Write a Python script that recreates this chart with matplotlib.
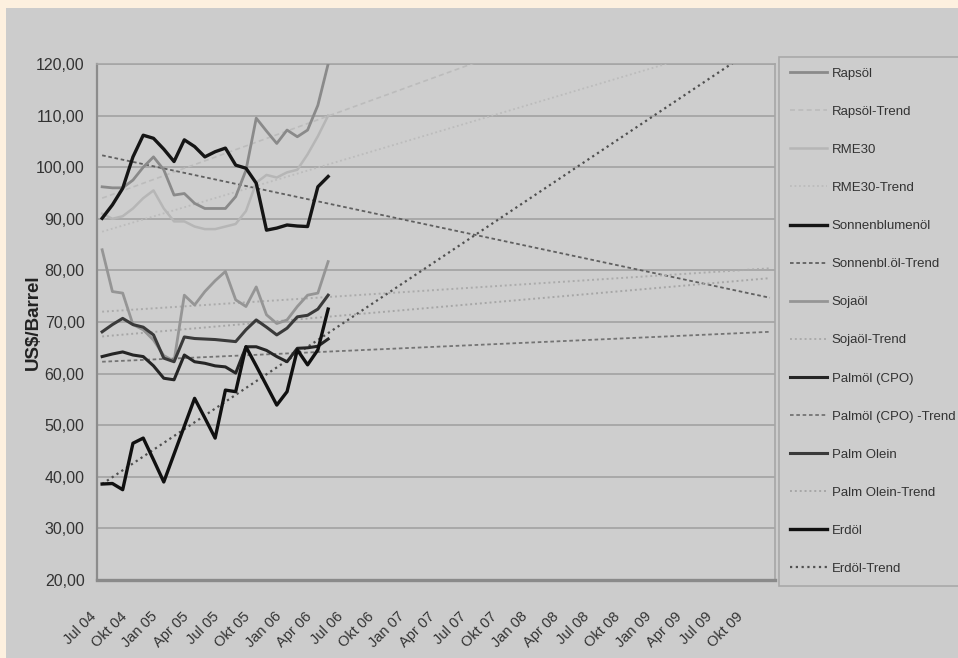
import numpy as np
import matplotlib
matplotlib.use("Agg")
import matplotlib.pyplot as plt
from matplotlib.patches import Rectangle
from matplotlib.lines import Line2D
from matplotlib.transforms import ScaledTranslation

plt.rcParams['font.family'] = ['Liberation Sans', 'DejaVu Sans']

# Monthly categories from Jul 04 through Dez 09 (data period plus trend horizon)
month_names = ["Jan", "Feb", "Mrz", "Apr", "Mai", "Jun",
               "Jul", "Aug", "Sep", "Okt", "Nov", "Dez"]
categories = [f"{month_names[m]} {y:02d}"
              for y in range(4, 10) for m in range(12)][6:]

tick_labels = ["Jul 04", "Okt 04", "Jan 05", "Apr 05", "Jul 05", "Okt 05",
               "Jan 06", "Apr 06", "Jul 06", "Okt 06", "Jan 07", "Apr 07",
               "Jul 07", "Okt 07", "Jan 08", "Apr 08", "Jul 08", "Okt 08",
               "Jan 09", "Apr 09", "Jul 09", "Okt 09"]

y_ticks = [20, 30, 40, 50, 60, 70, 80, 90, 100, 110, 120]
y_tick_labels = ["20,00", "30,00", "40,00", "50,00", "60,00", "70,00",
                 "80,00", "90,00", "100,00", "110,00", "120,00"]

# Prices in US$/Barrel, Jul 04 - Mai 06
rapsoel = [96.2, 96.0, 96.0, 97.5, 100.0, 102.0, 99.5, 94.6, 94.9, 93.0, 92.0,
           92.0, 92.0, 94.3, 99.4, 109.5, 107.0, 104.6, 107.2, 105.9, 107.2,
           112.0, 120.0]
rme30 = [91.0, 90.0, 90.5, 92.0, 94.0, 95.5, 92.0, 89.5, 89.5, 88.5, 88.0,
         88.0, 88.5, 89.0, 91.5, 97.0, 98.5, 98.0, 99.0, 99.5, 102.5, 106.0,
         110.0]
sonnenblumenoel = [90.1, 92.7, 95.9, 102.0, 106.2, 105.6, 103.5, 101.1, 105.3,
                   104.0, 102.0, 103.0, 103.7, 100.4, 99.8, 96.9, 87.8, 88.2,
                   88.8, 88.6, 88.5, 96.2, 98.2]
sojaoel = [84.0, 75.9, 75.6, 69.5, 68.5, 66.5, 63.5, 62.4, 75.2, 73.3, 75.9,
           78.0, 79.8, 74.3, 73.0, 76.8, 71.4, 69.7, 70.4, 73.0, 75.2, 75.6,
           81.7]
palmoel_cpo = [63.3, 63.8, 64.2, 63.6, 63.3, 61.5, 59.1, 58.8, 63.6, 62.3,
               62.0, 61.5, 61.3, 60.1, 65.2, 65.2, 64.5, 63.3, 62.3, 64.9,
               65.0, 65.3, 66.7]
palm_olein = [68.1, 69.5, 70.7, 69.5, 69.0, 67.5, 63.0, 62.3, 67.1, 66.8,
              66.7, 66.6, 66.4, 66.2, 68.5, 70.4, 69.0, 67.5, 68.8, 71.0,
              71.3, 72.5, 75.2]
erdoel = [38.6, 38.7, 37.5, 46.5, 47.5, 43.3, 39.0, 44.4, 49.8, 55.2, 51.4,
          47.5, 56.8, 56.5, 65.2, 61.5, 57.7, 53.9, 56.5, 64.6, 61.7, 64.6,
          72.5]

# Linear trend values at Jul 04 and at Dez 09
rapsoel_trend = [94.0, 141.0]
rme30_trend = [87.5, 126.0]
sonnenblumenoel_trend = [102.3, 74.7]
sojaoel_trend = [72.0, 80.4]
palmoel_cpo_trend = [62.3, 68.1]
palm_olein_trend = [67.2, 78.5]
erdoel_trend = [38.6, 125.0]

W, H = 958, 658
fig = plt.figure(figsize=(W / 100, H / 100), dpi=100)
fig.patch.set_facecolor("#FDF0DF")
fig.patches.append(Rectangle((6 / W, 0), 1 - 6 / W, 1 - 8 / H,
                             transform=fig.transFigure, facecolor="#CCCCCC",
                             edgecolor="none", zorder=-10))

ax = fig.add_axes([97 / W, 78 / H, 678 / W, 516 / H])
ax.set_facecolor("#CECECE")
ax.set_xlim(-0.5, len(categories) - 0.5)
ax.set_ylim(20, 120)

for v in y_ticks:
    ax.axhline(v, color="#A6A6A6", lw=1.3, zorder=1)

x_data = np.arange(len(rapsoel))
x_trend = [0, len(categories) - 1]

series = [
    ("Rapsöl", rapsoel, dict(color="#8A8A8A", lw=2.0, ls="-")),
    ("Rapsöl-Trend", None, dict(color="#BCBCBC", lw=1.2, ls=(0, (3, 2)))),
    ("RME30", rme30, dict(color="#B6B6B6", lw=1.8, ls="-")),
    ("RME30-Trend", None, dict(color="#BCBCBC", lw=1.3, ls=(0, (1, 1.5)))),
    ("Sonnenblumenöl", sonnenblumenoel, dict(color="#151515", lw=2.4, ls="-")),
    ("Sonnenbl.öl-Trend", None, dict(color="#606060", lw=1.3, ls=(0, (2, 1.5)))),
    ("Sojaöl", sojaoel, dict(color="#959595", lw=2.0, ls="-")),
    ("Sojaöl-Trend", None, dict(color="#ABABAB", lw=1.4, ls=(0, (1, 1.5)))),
    ("Palmöl (CPO)", palmoel_cpo, dict(color="#252525", lw=2.2, ls="-")),
    ("Palmöl (CPO) -Trend", None, dict(color="#747474", lw=1.3, ls=(0, (2, 1.5)))),
    ("Palm Olein", palm_olein, dict(color="#3A3A3A", lw=2.2, ls="-")),
    ("Palm Olein-Trend", None, dict(color="#A6A6A6", lw=1.4, ls=(0, (1, 1.5)))),
    ("Erdöl", erdoel, dict(color="#101010", lw=2.4, ls="-")),
    ("Erdöl-Trend", None, dict(color="#505050", lw=1.6, ls=(0, (1, 1.6)))),
]
trends = {
    "Rapsöl-Trend": rapsoel_trend,
    "RME30-Trend": rme30_trend,
    "Sonnenbl.öl-Trend": sonnenblumenoel_trend,
    "Sojaöl-Trend": sojaoel_trend,
    "Palmöl (CPO) -Trend": palmoel_cpo_trend,
    "Palm Olein-Trend": palm_olein_trend,
    "Erdöl-Trend": erdoel_trend,
}

handles, labels = [], []
for i, (name, values, style) in enumerate(series):
    if values is None:
        ax.plot(x_trend, trends[name], zorder=3 + i * 0.1, **style)
    else:
        ax.plot(x_data, values, zorder=4 + i * 0.1,
                solid_joinstyle="round", **style)
    handles.append(Line2D([], [], **style))
    labels.append(name)

ax.set_yticks(y_ticks)
ax.set_yticklabels(y_tick_labels)
ax.set_xticks([categories.index(t) for t in tick_labels])
ax.set_xticklabels(tick_labels, rotation=45, ha="right", va="top",
                   rotation_mode="anchor")
ax.tick_params(axis="y", length=0, pad=9, labelsize=11.5, labelcolor="#333333")
ax.tick_params(axis="x", length=0, pad=6, labelsize=10.5, labelcolor="#333333")

# shift the slanted month labels down and to the left along their slant
label_shift = ScaledTranslation(-13 / 100, -21 / 100, fig.dpi_scale_trans)
for lbl in ax.get_xticklabels():
    lbl.set_transform(lbl.get_transform() + label_shift)

for side in ("top", "right"):
    ax.spines[side].set_color("#A6A6A6")
    ax.spines[side].set_linewidth(1.2)
ax.spines["left"].set_color("#8C8C8C")
ax.spines["left"].set_linewidth(1.6)
ax.spines["bottom"].set_color("#8A8A8A")
ax.spines["bottom"].set_linewidth(2.4)

ax.set_ylabel("US$/Barrel", fontsize=13.5, fontweight="bold",
              color="#222222", va="center")
ax.yaxis.set_label_coords(-(97 - 33) / 678, 0.5)

leg = fig.legend(handles, labels, loc="upper left",
                 bbox_to_anchor=(779 / W, 1 - 57 / H),
                 bbox_transform=fig.transFigure, frameon=True, fancybox=False,
                 borderaxespad=0, fontsize=9.5, labelspacing=1.96,
                 handlelength=2.8, handletextpad=0.4, borderpad=0.8)
leg.get_frame().set_facecolor("#CECECE")
leg.get_frame().set_edgecolor("#A0A0A0")
leg.get_frame().set_linewidth(1.2)
for t in leg.get_texts():
    t.set_color("#333333")

fig.savefig("out.png", dpi=100, facecolor=fig.get_facecolor())
